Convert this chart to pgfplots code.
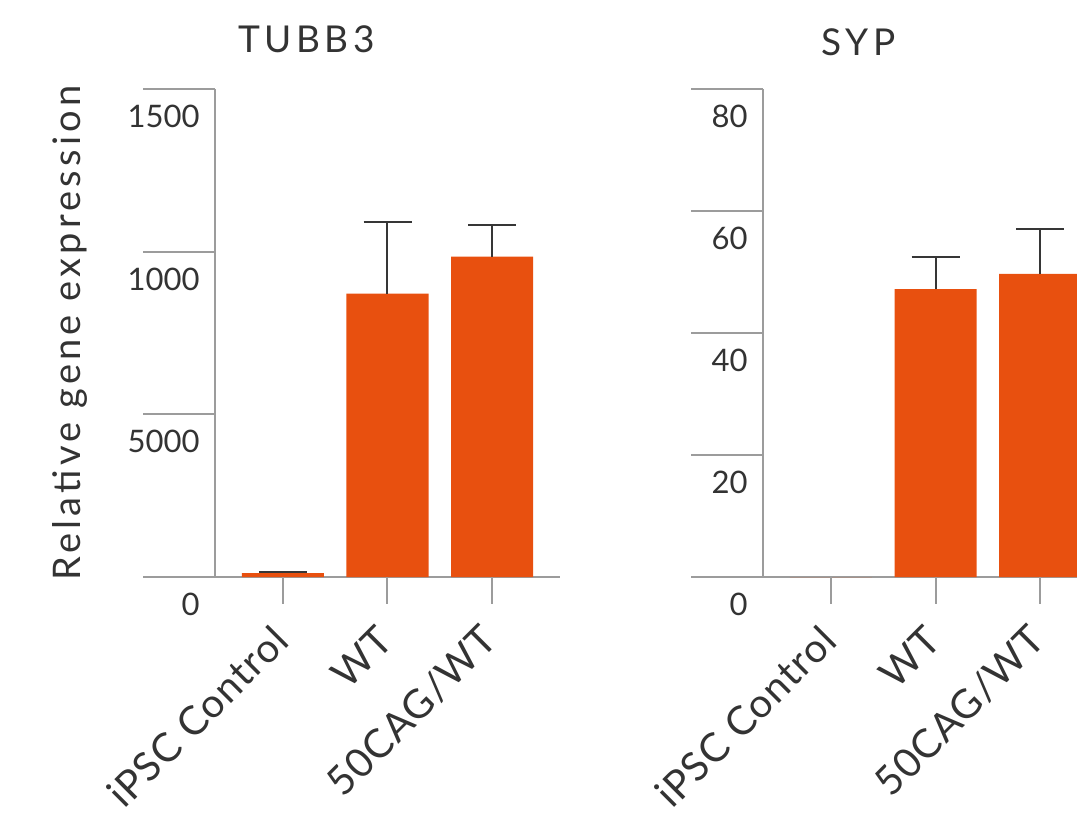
\documentclass[border=0pt]{standalone}
\usepackage{fontspec}
\setmainfont{Lato}
\usepackage{pgfplots}
\pgfplotsset{compat=1.18}
\definecolor{barc}{HTML}{E8500F}
\definecolor{txt}{HTML}{333333}
\definecolor{axl}{HTML}{9C9C9C}
\definecolor{errc}{HTML}{363636}
\tikzset{tk/.style={axl, line width=1pt}}

\pgfplotsset{
  panel/.style={
    scale only axis, width=172.5pt, height=244pt,
    anchor=south west,
    axis x line*=bottom, axis y line*=left,
    axis line style={axl, line width=1pt, -},
    xmin=-0.65, xmax=2.65, ymin=0,
    xtick={0,1,2}, xticklabels={iPSC Control,WT,50CAG/WT},
    scaled y ticks=false,
    tick style={draw=none},
    major tick length=0pt,
    clip=false,
    ybar, bar width=41pt,
    /pgf/number format/assume math mode=true,
    every axis title shift=0pt,
    yticklabel style={font=\fontsize{15.5}{18}\selectfont, text=txt, anchor=east, inner sep=0pt, xshift=-7.5pt, yshift=-13.75pt},
    xticklabel style={font=\fontsize{20}{24}\selectfont\addfontfeatures{LetterSpace=3}, text=txt, inner sep=0pt, xshift=-1pt, yshift=-28pt, rotate=45, anchor=east},
    title style={font=\fontsize{18.5}{22}\selectfont\addfontfeatures{LetterSpace=12}, text=txt, anchor=center, inner sep=0pt},
    every axis y label/.style={at={(axis description cs:0,0.5)}, xshift=-72.5pt, rotate=90, anchor=center, font=\fontsize{19}{23}\selectfont\addfontfeatures{LetterSpace=11}, text=txt},
  },
  barstyle/.style={fill=barc, draw=none, bar shift=0pt,
    error bars/.cd, y dir=plus, y explicit,
    error bar style={errc, line width=1pt},
    error mark options={rotate=90, mark size=12pt, line width=1pt, errc}},
}

\begin{document}
\begin{tikzpicture}
\useasboundingbox (0pt,0pt) rectangle (538.5pt,410pt);
\clip (0pt,0pt) rectangle (538.5pt,410pt);
% TUBB3
\begin{axis}[panel, at={(107.5pt,121.5pt)}, ymax=15000,
  ytick={0,5000,10000,15000}, yticklabels={0,5000,1000,1500},
  ylabel={Relative gene expression},
  title={TUBB3}, title style={at={(axis description cs:0.265,1)}, yshift=24.65pt}]
\addplot[barstyle] coordinates {(0,120) +- (0,35) (1,8708) +- (0,2206) (2,9846) +- (0,964)};
\draw[tk] (axis cs:-0.65,0) -- ([xshift=-36pt]axis cs:-0.65,0);
\draw[tk] (axis cs:-0.65,5000) -- ([xshift=-36pt]axis cs:-0.65,5000);
\draw[tk] (axis cs:-0.65,10000) -- ([xshift=-36pt]axis cs:-0.65,10000);
\draw[tk] (axis cs:-0.65,15000) -- ([xshift=-36pt]axis cs:-0.65,15000);
\draw[tk] (axis cs:0,0) -- ([yshift=-13.5pt]axis cs:0,0);
\draw[tk] (axis cs:1,0) -- ([yshift=-13.5pt]axis cs:1,0);
\draw[tk] (axis cs:2,0) -- ([yshift=-13.5pt]axis cs:2,0);
\end{axis}
% SYP
\begin{axis}[panel, at={(381.5pt,121.5pt)}, ymax=80,
  ytick={0,20,40,60,80}, yticklabels={0,20,40,60,80},
  title={SYP}, title style={at={(axis description cs:0.277,1)}, yshift=23.25pt}]
\addplot[fill=barc, draw=none, bar shift=0pt] coordinates {(0,0)};
\addplot[barstyle] coordinates {(1,47.2) +- (0,5.3) (2,49.7) +- (0,7.4)};
\draw[tk] (axis cs:-0.65,0) -- ([xshift=-36pt]axis cs:-0.65,0);
\draw[tk] (axis cs:-0.65,20) -- ([xshift=-36pt]axis cs:-0.65,20);
\draw[tk] (axis cs:-0.65,40) -- ([xshift=-36pt]axis cs:-0.65,40);
\draw[tk] (axis cs:-0.65,60) -- ([xshift=-36pt]axis cs:-0.65,60);
\draw[tk] (axis cs:-0.65,80) -- ([xshift=-36pt]axis cs:-0.65,80);
\draw[tk] (axis cs:0,0) -- ([yshift=-13.5pt]axis cs:0,0);
\draw[tk] (axis cs:1,0) -- ([yshift=-13.5pt]axis cs:1,0);
\draw[tk] (axis cs:2,0) -- ([yshift=-13.5pt]axis cs:2,0);
\end{axis}
\end{tikzpicture}
\end{document}
